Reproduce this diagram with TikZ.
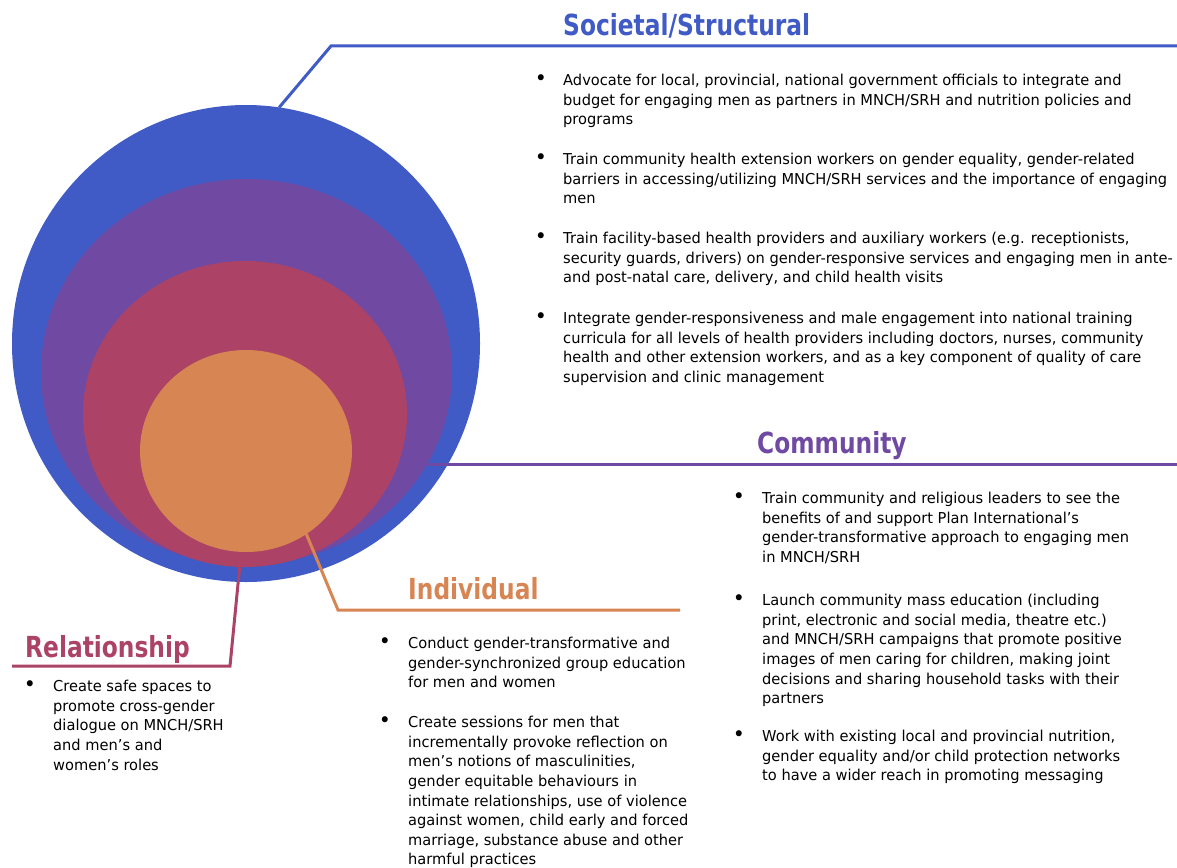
\documentclass[tikz,border=0pt]{standalone}
\usepackage{fontspec}
\setmainfont{DejaVu Sans}[FakeStretch=0.975]
\newfontfamily\headfont{DejaVu Sans}[FakeStretch=0.805]
\usetikzlibrary{shapes.geometric}

\definecolor{societal}{RGB}{64,90,198}
\definecolor{community}{RGB}{112,74,162}
\definecolor{relation}{RGB}{172,66,102}
\definecolor{individual}{RGB}{216,133,84}

\tikzset{
  layer/.style={ellipse, inner sep=0pt, outer sep=0pt, draw=none},
  heading/.style={anchor=base west, inner sep=0pt, font=\headfont\fontsize{29}{34}\selectfont\bfseries},
  item/.style={anchor=north west, align=left, inner sep=0pt, font=\fontsize{15}{19.6}\selectfont},
  dot/.style={inner sep=0pt, font=\fontsize{21}{21}\selectfont},
  link/.style={line width=3pt},
}

\begin{document}
\begin{tikzpicture}[x=1pt,y=-1pt]
\useasboundingbox (0,0) rectangle (1177,867);

% Nested levels, outermost first
\node[layer, fill=societal, minimum width=468pt, minimum height=477pt] (soc) at (246,343.5) {};
\node[layer, fill=community, minimum width=411pt, minimum height=386pt] (com) at (246.5,372) {};
\node[layer, fill=relation, minimum width=324pt, minimum height=306pt] (rel) at (245,414) {};
\node[layer, fill=individual, minimum width=212pt, minimum height=202pt] (ind) at (246,451) {};

% Headings
\node[heading, text=societal] (soctitle) at (563,36) {Societal/Structural};
\node[heading, text=community] (comtitle) at (757,453) {Community};
\node[heading, text=individual] (indtitle) at (408,599) {Individual};
\node[heading, text=relation] (reltitle) at (25,657) {Relationship};

% Leader lines from each level to its heading
\coordinate (socknee) at (331,46);
\coordinate (socend) at (1177,46);
\draw[link, societal] (soc.82) -- (socknee) -- (socend);

\coordinate (comend) at (1177,465);
\draw[link, community] (com.-27.4) -- (com.-27.4 -| comend);

\coordinate (indknee) at (338,610);
\coordinate (indend) at (680,610);
\draw[link, individual] (ind.-54.5) -- (indknee) -- (indend);

\coordinate (relknee) at (230,666);
\coordinate (relend) at (12,666);
\draw[link, relation] (rel.-92.5) -- (relknee) -- (relend);

% Societal/Structural points
\node[dot] (soc1dot) at (541,80) {\textbullet};
\node[item] (soc1) at (563,74) {Advocate for local, provincial, national government officials to integrate and\\budget for engaging men as partners in MNCH/SRH and nutrition policies and\\programs};
\node[dot] (soc2dot) at (541,159) {\textbullet};
\node[item] (soc2) at (563,153) {Train community health extension workers on gender equality, gender-related\\barriers in accessing/utilizing MNCH/SRH services and the importance of engaging\\men};
\node[dot] (soc3dot) at (541,238) {\textbullet};
\node[item] (soc3) at (563,232) {Train facility-based health providers and auxiliary workers (e.g. receptionists,\\security guards, drivers) on gender-responsive services and engaging men in ante-\\and post-natal care, delivery, and child health visits};
\node[dot] (soc4dot) at (541,318) {\textbullet};
\node[item] (soc4) at (563,312) {Integrate gender-responsiveness and male engagement into national training\\curricula for all levels of health providers including doctors, nurses, community\\health and other extension workers, and as a key component of quality of care\\supervision and clinic management};

% Community points
\node[dot] (com1dot) at (739,498) {\textbullet};
\node[item] (com1) at (762,492) {Train community and religious leaders to see the\\benefits of and support Plan International’s\\gender-transformative approach to engaging men\\in MNCH/SRH};
\node[dot] (com2dot) at (739,600) {\textbullet};
\node[item] (com2) at (762,594) {Launch community mass education (including\\print, electronic and social media, theatre etc.)\\and MNCH/SRH campaigns that promote positive\\images of men caring for children, making joint\\decisions and sharing household tasks with their\\partners};
\node[dot] (com3dot) at (739,736) {\textbullet};
\node[item] (com3) at (762,730) {Work with existing local and provincial nutrition,\\gender equality and/or child protection networks\\to have a wider reach in promoting messaging};

% Individual points
\node[dot] (ind1dot) at (385,643) {\textbullet};
\node[item] (ind1) at (408,637) {Conduct gender-transformative and\\gender-synchronized group education\\for men and women};
\node[dot] (ind2dot) at (385,722) {\textbullet};
\node[item] (ind2) at (408,716) {Create sessions for men that\\incrementally provoke reflection on\\men’s notions of masculinities,\\gender equitable behaviours in\\intimate relationships, use of violence\\against women, child early and forced\\marriage, substance abuse and other\\harmful practices};

% Relationship points
\node[dot] (rel1dot) at (30,686) {\textbullet};
\node[item] (rel1) at (53,680) {Create safe spaces to\\promote cross-gender\\dialogue on MNCH/SRH\\and men’s and\\women’s roles};
\end{tikzpicture}
\end{document}
